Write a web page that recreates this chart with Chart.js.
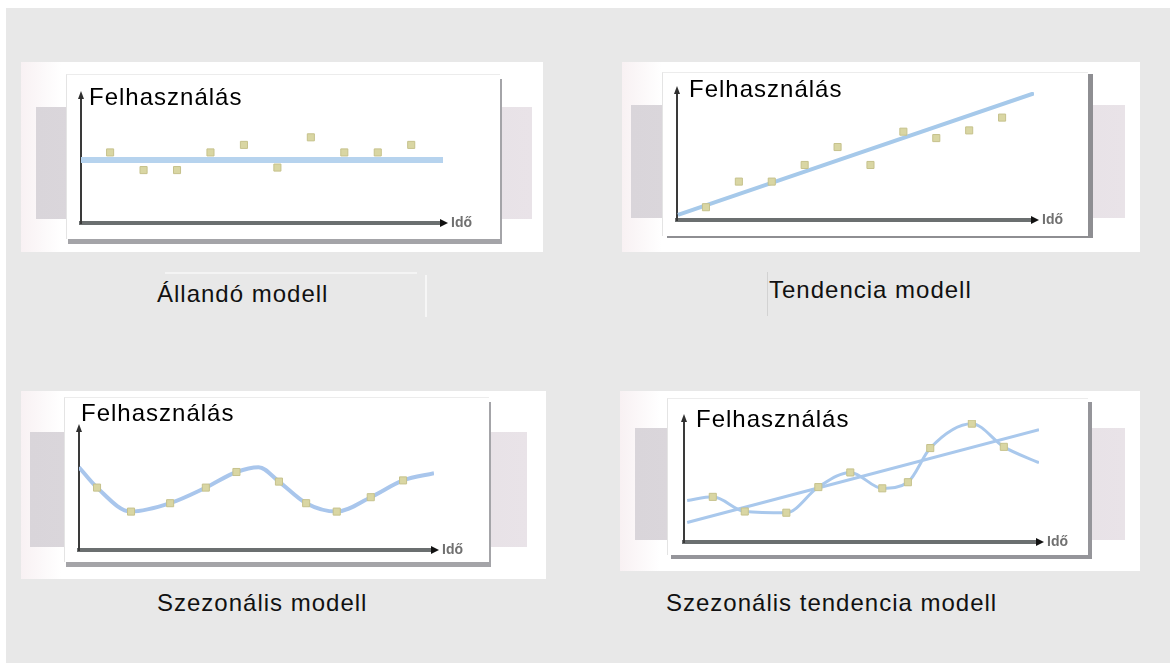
<!DOCTYPE html>
<html>
<head>
<meta charset="utf-8">
<script src="https://cdn.jsdelivr.net/npm/chart.js@4.4.0/dist/chart.umd.min.js"></script>
<style>
  body { margin: 0; width: 1170px; height: 666px; background: #fff; position: relative; overflow: hidden;
         font-family: "Liberation Sans", Arial, sans-serif; }
  #page { position: absolute; left: 6px; top: 8px; width: 1164px; height: 655px; background: #e8e8e8; }
  .frame { position: absolute; background: linear-gradient(to right, #f8f1f3 0, #fff 40px); }
  .band { position: absolute; background: linear-gradient(to right, #d9d5da, #e2dee2 60%, #e9e3e8); }
  .card { position: absolute; background: #fff; box-sizing: border-box; border-left: 1px solid #e4e4e4; border-top: 1px solid #ececec; }
  .caption { position: absolute; font-size: 24px; line-height: 24px; letter-spacing: 1px; color: #111; white-space: nowrap; }
  .rule { position: absolute; }
</style>
</head>
<body>
<div id="page"></div>

<div class="frame" style="left:21px;top:62px;width:522px;height:190px"></div>
<div class="frame" style="left:622px;top:62px;width:518px;height:190px"></div>
<div class="frame" style="left:21px;top:391px;width:525px;height:188px"></div>
<div class="frame" style="left:620px;top:391px;width:520px;height:180px"></div>

<div class="band" style="left:36px;top:107px;width:496px;height:112px"></div>
<div class="band" style="left:631px;top:105px;width:494px;height:113px"></div>
<div class="band" style="left:30px;top:432px;width:497px;height:115px"></div>
<div class="band" style="left:635px;top:428px;width:490px;height:112px"></div>

<div class="card" style="left:66px;top:74px;width:434px;height:165px;box-shadow:2px 5px 0 #a4a4a8"><canvas id="c1"></canvas></div>
<div class="card" style="left:662px;top:72px;width:426px;height:164px;box-shadow:5px 2px 0 #8e8e92"><canvas id="c2"></canvas></div>
<div class="card" style="left:64px;top:397px;width:425px;height:165px;box-shadow:2px 5px 0 #a4a4a8"><canvas id="c3"></canvas></div>
<div class="card" style="left:667px;top:398px;width:421px;height:157px;box-shadow:4px 4px 0 #95959a"><canvas id="c4"></canvas></div>

<div class="rule" style="left:165px;top:272px;width:252px;height:2px;background:#f4f4f4"></div>
<div class="rule" style="left:425px;top:275px;width:2px;height:42px;background:#f6f6f6"></div>
<div class="rule" style="left:767px;top:272px;width:1px;height:44px;background:#d2d2d2"></div>

<div class="caption" id="cap1" style="left:157px;top:282px"></div>
<div class="caption" id="cap2" style="left:769px;top:278px"></div>
<div class="caption" id="cap3" style="left:157px;top:591px"></div>
<div class="caption" id="cap4" style="left:666px;top:591px"></div>

<script>
/* ================= DATA ================= */
const X_LABEL = "Idő";
const Y_TITLE = "Felhasználás";
const CAPTIONS = ["Állandó modell", "Tendencia modell", "Szezonális modell", "Szezonális tendencia modell"];

// Állandó modell
const constT = [1, 2, 3, 4, 5, 6, 7, 8, 9, 10];
const constObs = [56, 42, 42, 56, 62, 44, 68, 56, 56, 62];
const constLineT = [0.13, 10.95];
const constLineY = [50, 50];

// Tendencia modell
const trendT = [1, 2, 3, 4, 5, 6, 7, 8, 9, 10];
const trendObs = [10, 30, 30, 43, 57, 43, 69, 64, 70, 80];
const trendLineT = [0.15, 10.97];
const trendLineY = [4, 99];

// Szezonális modell
const seasT = [1, 2, 3.15, 4.2, 5.1, 6.35, 7.15, 8.05, 9.05, 10];
const seasObs = [52, 32, 39, 52, 65, 57, 39, 32, 44, 58];
const seasCurveT = [0.47, 1, 2, 3.15, 4.2, 5.1, 5.75, 6.35, 7.15, 8.05, 9.05, 10, 10.91];
const seasCurveY = [69, 52, 32, 39, 52, 65, 69, 57, 39, 32, 44, 58, 64];

// Szezonális tendencia modell
const stT = [0.9, 1.9, 3.2, 4.2, 5.2, 6.2, 7, 7.7, 9, 10];
const stObs = [37, 25, 24, 45, 57, 44, 49, 77, 97, 78];
const stCurveT = [0.1, 0.9, 1.9, 3.2, 4.2, 5.2, 6.2, 7, 7.7, 9, 10, 11.1];
const stCurveY = [34, 37, 25, 24, 45, 57, 44, 49, 77, 97, 78, 65];
const stTrendT = [0.1, 11.1];
const stTrendY = [16, 92];

/* ================= HELPERS ================= */
const pts = (xs, ys) => xs.map((x, i) => ({ x: x, y: ys[i] }));

function obsSet(xs, ys) {
    return {
        data: pts(xs, ys), pointStyle: "rect", pointRadius: 5,
        backgroundColor: "#d9d6a3", borderColor: "#c6c28c", borderWidth: 1, order: 1
    };
}

function lineSet(xs, ys, color, width) {
    return {
        data: pts(xs, ys), showLine: true, pointRadius: 0, borderColor: color, borderWidth: width,
        cubicInterpolationMode: "monotone", order: 2
    };
}

// arrows, axis label and the "Felhasználás" title
const axisDecor = {
    id: "axisDecor",
    afterDraw(chart, args, opts) {
        const { ctx, chartArea: a } = chart;
        ctx.save();
        ctx.fillStyle = "#2f2f2f";
        ctx.beginPath();
        ctx.moveTo(a.left, a.top - 6);
        ctx.lineTo(a.left - 3, a.top + 2);
        ctx.lineTo(a.left + 3, a.top + 2);
        ctx.fill();
        ctx.fillStyle = "#111";
        ctx.beginPath();
        ctx.moveTo(a.right + 5, a.bottom);
        ctx.lineTo(a.right - 3, a.bottom - 4);
        ctx.lineTo(a.right - 3, a.bottom + 4);
        ctx.fill();

        ctx.font = 'bold 14px "Liberation Sans", Arial, sans-serif';
        ctx.fillStyle = "#707070";
        ctx.textBaseline = "middle";
        ctx.fillText(X_LABEL, a.right + 8, a.bottom);

        ctx.font = '24px "Liberation Sans", Arial, sans-serif';
        if ("letterSpacing" in ctx) ctx.letterSpacing = "1px";
        ctx.fillStyle = "#000";
        ctx.textBaseline = "alphabetic";
        ctx.fillText(Y_TITLE, a.left + opts.dx, a.top + opts.dy);
        ctx.restore();
    }
};

function makeChart(id, datasets, xRange, pad, title) {
    return new Chart(document.getElementById(id), {
        type: "scatter",
        data: { datasets: datasets },
        plugins: [axisDecor],
        options: {
            responsive: true, maintainAspectRatio: false, animation: false,
            layout: { padding: pad },
            plugins: { legend: { display: false }, tooltip: { enabled: false }, axisDecor: title },
            scales: {
                x: {
                    type: "linear", min: xRange[0], max: xRange[1],
                    ticks: { display: false }, grid: { display: false },
                    border: { display: true, color: "#6b6f70", width: 4 },
                    afterFit: s => { s.height = 0; }
                },
                y: {
                    type: "linear", min: 0, max: 100,
                    ticks: { display: false }, grid: { display: false },
                    border: { display: true, color: "#3a3a3a", width: 2 },
                    afterFit: s => { s.width = 0; }
                }
            }
        }
    });
}

/* ================= CHARTS ================= */
// card has a 1px left/top border, so paddings are one less than the page offsets
makeChart("c1",
    [obsSet(constT, constObs), lineSet(constLineT, constLineY, "#b6d3ee", 6)],
    [0.13, 10.95], { left: 14, top: 22, right: 57, bottom: 16 }, { dx: 8, dy: 8 });

makeChart("c2",
    [obsSet(trendT, trendObs), lineSet(trendLineT, trendLineY, "#a6c9ea", 4)],
    [0.12, 10.97], { left: 14, top: 19, right: 54, bottom: 16 }, { dx: 12, dy: 5 });

makeChart("c3",
    [obsSet(seasT, seasObs), lineSet(seasCurveT, seasCurveY, "#a9c6ec", 4)],
    [0.47, 10.91], { left: 14, top: 32, right: 55, bottom: 12 }, { dx: 2, dy: -9 });

makeChart("c4",
    [obsSet(stT, stObs), lineSet(stCurveT, stCurveY, "#a9c8ec", 3), lineSet(stTrendT, stTrendY, "#a9c8ec", 3)],
    [0, 11.1], { left: 16, top: 21, right: 49, bottom: 13 }, { dx: 12, dy: 7 });

CAPTIONS.forEach((c, i) => { document.getElementById("cap" + (i + 1)).innerText = c; });
</script>
</body>
</html>
